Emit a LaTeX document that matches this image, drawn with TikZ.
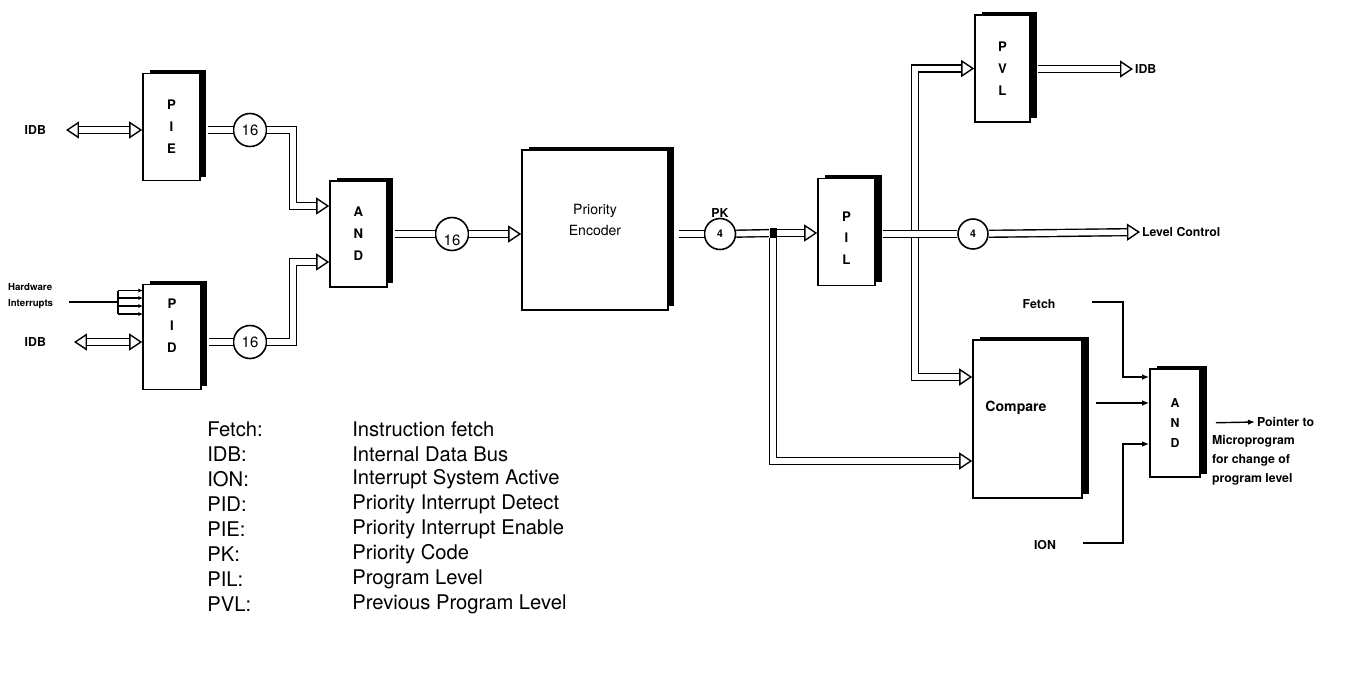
\documentclass[tikz,border=0pt]{standalone}
\usepackage{fontspec}
\setmainfont{TeX Gyre Heros}
\usepackage{tikz}
\usetikzlibrary{arrows.meta,positioning,shadows}

\begin{document}
\begin{tikzpicture}[x=0.02cm, y=-0.02cm,
    blk/.style={rectangle, draw, line width=0.9pt, fill=white, inner sep=1pt, align=center, font=\fontsize{7.5}{12.5}\selectfont\bfseries, general shadow={fill=black, shadow xshift=0.13cm, shadow yshift=0.07cm}},
    ring/.style={circle, draw, line width=0.9pt, fill=white, minimum size=0.66cm, inner sep=0pt, font=\fontsize{8.5}{9}\selectfont},
    lbl/.style={inner sep=1pt, font=\fontsize{7}{8}\selectfont\bfseries},
    key/.style={anchor=west, inner sep=0pt, font=\fontsize{11.5}{13}\selectfont},
    bus/.style={double, double distance=0.11cm, line width=0.8pt},
    tip/.style={-{Triangle[open, length=0.26cm, width=0.34cm]}},
    dtip/.style={{Triangle[open, length=0.26cm, width=0.34cm]}-{Triangle[open, length=0.26cm, width=0.34cm]}},
    sig/.style={-{Latex[length=1.4mm, width=1.1mm]}, line width=0.8pt}
]
\useasboundingbox (0,0) rectangle (1349,684);

% registers and logic
\node[blk, minimum width=1.14cm, minimum height=2.14cm] (pie) at (171.5,127) {P\\I\\E};
\node[blk, minimum width=1.16cm, minimum height=2.1cm] (pid) at (172,337) {P\\I\\D\\\mbox{}};
\node[blk, minimum width=1.14cm, minimum height=2.12cm] (and1) at (358.5,234) {A\\N\\D};
\node[blk, minimum width=2.92cm, minimum height=3.2cm, font=\fontsize{8}{11.5}\selectfont] (enc) at (595,230) {Priority\\Encoder\\\mbox{}};
\node[blk, minimum width=1.14cm, minimum height=2.14cm] (pil) at (846.5,232) {\mbox{}\\P\\I\\L};
\node[blk, minimum width=1.1cm, minimum height=2.14cm] (pvl) at (1002.5,68.5) {P\\V\\L};
\node[blk, minimum width=2.18cm, minimum height=3.16cm] (cmp) at (1027.5,419) {};
\node[lbl, font=\fontsize{8}{9}\selectfont\bfseries] (cmptxt) at (1016,408) {Compare};
\node[blk, minimum width=1.0cm, minimum height=2.16cm, font=\fontsize{7}{11.5}\selectfont\bfseries] (and2) at (1175,423) {A\\N\\D};

% bus widths
\node[ring] (cA) at (250,130) {16};
\node[ring] (cB) at (250,342) {16};
\node[ring, label={[font=\fontsize{8.5}{9}\selectfont, yshift=-0.12cm]center:16}] (cC) at (452,234) {};
\node[ring, minimum size=0.62cm, font=\fontsize{6}{7}\selectfont\bfseries, label={[lbl, inner sep=0pt]above:PK}] (cPK) at (720,234) {4};
\node[ring, minimum size=0.6cm, font=\fontsize{6}{7}\selectfont\bfseries] (cL) at (973,234) {4};
\node[fill, minimum width=0.14cm, minimum height=0.2cm, inner sep=0pt] (jn) at (773,233) {};
\coordinate (jx) at (915,234);

% outside labels
\node[lbl, anchor=east] (idbA) at (48,130) {IDB};
\node[lbl, anchor=east] (idbB) at (48,342) {IDB};
\node[lbl, anchor=west, align=left, font=\fontsize{5.5}{9}\selectfont\bfseries] (hw) at (6,296) {Hardware\\Interrupts};
\node[lbl, anchor=west] (idbC) at (1133,69) {IDB};
\node[lbl, anchor=west, font=\fontsize{7}{8}\selectfont\bfseries] (lvl) at (1140,232) {Level Control};
\node[lbl] (fetch) at (1039,304) {Fetch};
\node[lbl] (ion) at (1045,545) {ION};
\node[lbl, anchor=west] (ptrA) at (1255,422) {Pointer to};
\node[lbl, anchor=north west, align=left, font=\fontsize{7}{10.8}\selectfont\bfseries] (ptrB) at (1210,433) {Microprogram\\for change of\\program level};

% left side
\draw[bus, dtip] ([xshift=0.36cm]idbA.east) -- (idbA.east -| pie.west);
\draw[bus, dtip] ([xshift=0.52cm]idbB.east) -- (idbB.east -| pid.west);
\coordinate (kH) at (118,302);
\draw[line width=0.8pt, shorten <=0.28cm] (hw.east |- kH) -- (kH);
\draw[line width=0.7pt] ([yshift=0.23cm]kH) -- ([yshift=-0.24cm]kH);
\foreach \dy in {0.23,0.08,-0.08,-0.24}
  \draw[-{Latex[length=0.9mm, width=0.8mm]}, line width=0.6pt] ([yshift=\dy cm]kH) -- ++(0.5cm,0);
\draw[bus, shorten <=0.15cm] (pie.east |- cA) -- (cA);
\draw[bus, shorten <=0.15cm] (pid.east |- cB) -- (cB);
\coordinate (kA) at (293,206);
\coordinate (kB) at (293,262);
\draw[bus, tip] (cA) -| (kA) -- (kA -| and1.west);
\draw[bus, tip] (cB) -| (kB) -- (kB -| and1.west);
\draw[bus, shorten <=0.15cm] (and1.east |- cC) -- (cC);
\draw[bus, tip] (cC) -- (cC -| enc.west);

% right side
\draw[bus, shorten <=0.2cm] (enc.east |- cPK) -- (cPK);
\draw[bus] (cPK) -- (jn);
\draw[bus, tip] (jn) -- (jn -| pil.west);
\draw[bus, tip] (jn.south) |- ([yshift=-0.84cm]cmp.west);
\draw[bus, tip] (jx) |- (pvl.west);
\draw[bus, tip] (jx) |- ([yshift=0.84cm]cmp.west);
\draw[bus, shorten <=0.15cm] (pil.east |- jx) -- (cL);
\draw[bus, tip] (cL) -- (lvl.west);
\draw[bus, tip, shorten <=0.15cm] (pvl.east |- idbC) -- (idbC.west);

% control into the AND
\coordinate (kF) at (1123,302);
\coordinate (kI) at (1123,543);
\coordinate (inF) at ([yshift=0.92cm]and2.west);
\coordinate (inC) at ([yshift=0.4cm]and2.west);
\coordinate (inI) at ([yshift=-0.42cm]and2.west);
\draw[sig, shorten <=0.7cm] (fetch.east |- kF) -- (kF) |- (inF);
\draw[sig, shorten <=0.5cm] (ion.east |- kI) -- (kI) |- (inI);
\draw[sig, shorten <=0.26cm] (inC -| cmp.east) -- (inC);
\draw[sig, shorten <=0.3cm] (and2.east) -- (ptrA.west);

% legend
\node[key] (kFetch) at (207,429) {Fetch:};
\node[key] (dFetch) at (352,429) {Instruction fetch};
\node[key] (kIDB) at (207,454) {IDB:};
\node[key] (dIDB) at (352,454) {Internal Data Bus};
\node[key] (kION) at (207,479) {ION:};
\node[key] (dION) at (352,479) {Interrupt System Active};
\node[key] (kPID) at (207,504) {PID:};
\node[key] (dPID) at (352,504) {Priority Interrupt Detect};
\node[key] (kPIE) at (207,529) {PIE:};
\node[key] (dPIE) at (352,529) {Priority Interrupt Enable};
\node[key] (kPK) at (207,554) {PK:};
\node[key] (dPK) at (352,554) {Priority Code};
\node[key] (kPIL) at (207,579) {PIL:};
\node[key] (dPIL) at (352,579) {Program Level};
\node[key] (kPVL) at (207,604) {PVL:};
\node[key] (dPVL) at (352,604) {Previous Program Level};
\end{tikzpicture}
\end{document}
